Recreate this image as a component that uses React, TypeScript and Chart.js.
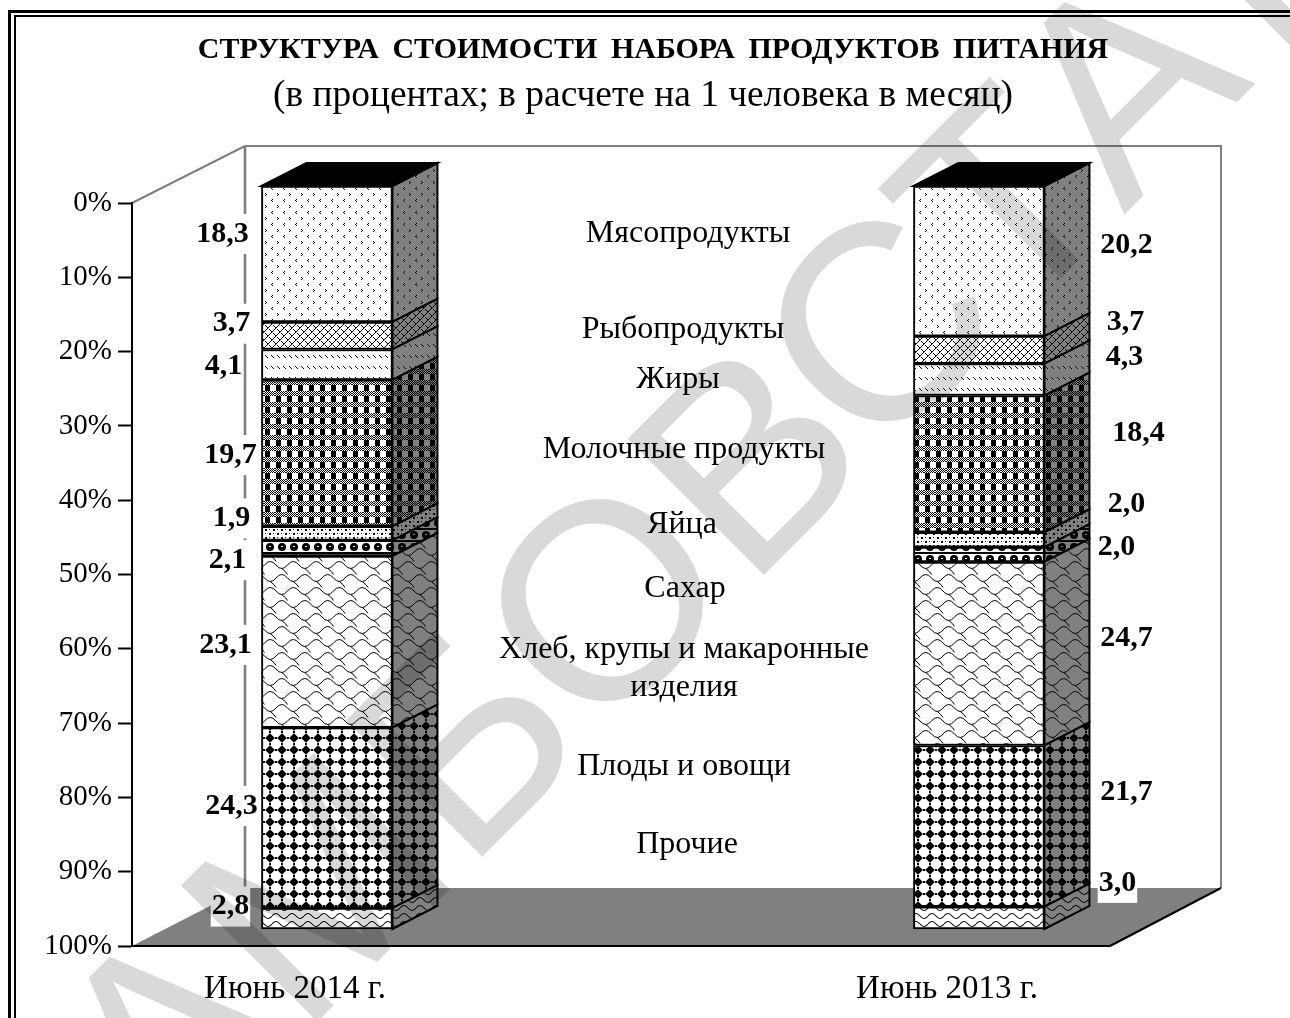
import React, { useEffect, useRef } from "react";
import { Chart, registerables } from "chart.js";

Chart.register(...registerables);

const categories = ["Июнь 2014 г.", "", "Июнь 2013 г."];
const barPositions = [0, 2];
const meat = [18.3, 20.2];
const fish = [3.7, 3.7];
const fats = [4.1, 4.3];
const dairy = [19.7, 18.4];
const eggs = [1.9, 2.0];
const sugar = [2.1, 2.0];
const bread = [23.1, 24.7];
const fruit = [24.3, 21.7];
const other = [2.8, 3.0];
const seriesNames = ["Мясопродукты", "Рыбопродукты", "Жиры", "Молочные продукты", "Яйца", "Сахар", "Хлеб, крупы и макаронные изделия", "Плоды и овощи", "Прочие"];
const seriesValues = [meat, fish, fats, dairy, eggs, sugar, bread, fruit, other];

// label placement relative to the bar edge and to the segment middle
const leftLabelDx = [-39, -30, -38, -31, -30, -34, -36, -30, -31];
const leftLabelDy = [-20, -12, 2, 2, -15, 12, 3, -12, -12];
const rightLabelDx = [82, 81, 80, 94, 82, 72, 82, 82, 73];
const rightLabelDy = [-16, -28, -22, -31, -35, -7, -15, -34, -35];
const middleLabels: [string, number, number][] = [
  ["Мясопродукты", 688, 234],
  ["Рыбопродукты", 683, 330],
  ["Жиры", 678, 380],
  ["Молочные продукты", 684, 450],
  ["Яйца", 682, 525],
  ["Сахар", 685, 589],
  ["Хлеб, крупы и макаронные", 684, 650],
  ["изделия", 684, 688],
  ["Плоды и овощи", 684, 767],
  ["Прочие", 687, 845],
];

const SERIF = '"Liberation Serif", "Times New Roman", serif';
const DEPTH_X = 45;
const DEPTH_Y = 23;
const WALL_X = 113;
const WALL_Y = 58;
const GRAY = "#808080";

type Draw = (c: CanvasRenderingContext2D, fg: string, bg: string) => void;

function tile(w: number, h: number, bg: string, fg: string, draw: Draw) {
  const cv = document.createElement("canvas");
  cv.width = w;
  cv.height = h;
  const c = cv.getContext("2d")!;
  c.fillStyle = bg;
  c.fillRect(0, 0, w, h);
  c.fillStyle = fg;
  c.strokeStyle = fg;
  draw(c, fg, bg);
  return c.createPattern(cv, "repeat")!;
}

const px = (c: CanvasRenderingContext2D, pts: number[][]) => pts.forEach(([x, y]) => c.fillRect(x, y, 1, 1));

const patternDefs: [number, number, Draw][] = [
  // meat
  [12, 12, (c) => {
    px(c, [[1, 1], [2, 2], [1, 3], [8, 7], [7, 8], [8, 9]]);
  }],
  // fish
  [8, 8, (c) => {
    px(c, [[0, 3], [1, 2], [2, 1], [3, 0], [5, 1], [6, 2], [7, 3]]);
    px(c, [[4, 7], [5, 6], [6, 5], [7, 4], [1, 5], [2, 6], [3, 7]]);
  }],
  // fats
  [6, 11, (c) => {
    px(c, [[1, 3], [2, 4], [3, 5]]);
  }],
  // dairy
  [11, 11, (c) => {
    c.fillRect(1, 0, 5, 6);
    for (let y = 6; y < 11; y++) for (let x = 0; x < 11; x++) if ((x + y) % 2 === 0) c.fillRect(x, y, 1, 1);
  }],
  // eggs
  [8, 8, (c) => {
    c.fillRect(1, 1, 2, 2);
    c.fillRect(5, 5, 2, 2);
    px(c, [[5, 1], [1, 5]]);
  }],
  // sugar
  [12, 12, (c, fg, bg) => {
    c.fillRect(0, 0, 12, 2);
    c.beginPath();
    c.arc(6, 7, 4, 0, Math.PI * 2);
    c.fill();
    c.fillStyle = bg;
    c.fillRect(5, 6, 2, 1);
    c.fillStyle = fg;
  }],
  // bread
  [23, 26, (c) => {
    c.lineWidth = 1;
    const wave = (x: number, y: number) => {
      c.beginPath();
      c.moveTo(x, y);
      c.quadraticCurveTo(x + 5.75, y - 7, x + 11.5, y);
      c.quadraticCurveTo(x + 17.25, y + 7, x + 23, y);
      c.moveTo(x + 17.25, y + 3.5);
      c.quadraticCurveTo(x + 22, y + 7, x + 23, y + 9.5);
      c.stroke();
    };
    for (let r = -1; r < 4; r++) {
      for (let k = -1; k < 2; k++) wave(k * 23 + (r % 2 ? 11.5 : 0), r * 13 + 6);
    }
  }],
  // fruit
  [12, 12, (c) => {
    c.beginPath();
    c.moveTo(6, 1.2);
    c.lineTo(10.8, 6);
    c.lineTo(6, 10.8);
    c.lineTo(1.2, 6);
    c.closePath();
    c.fill();
    px(c, [[5, 0], [6, 0], [0, 5], [0, 6], [5, 11], [6, 11], [11, 5], [11, 6]]);
  }],
  // other
  [16, 8, (c) => {
    c.lineWidth = 1.1;
    c.beginPath();
    c.moveTo(0, 4);
    c.quadraticCurveTo(4, -1, 8, 4);
    c.quadraticCurveTo(12, 9, 16, 4);
    c.stroke();
  }],
];

const poly = (ctx: CanvasRenderingContext2D, pts: number[][]) => {
  ctx.beginPath();
  pts.forEach(([x, y], i) => (i ? ctx.lineTo(x, y) : ctx.moveTo(x, y)));
  ctx.closePath();
};

const line = (ctx: CanvasRenderingContext2D, pts: number[][], color: string, width: number) => {
  ctx.save();
  ctx.strokeStyle = color;
  ctx.lineWidth = width;
  ctx.beginPath();
  pts.forEach(([x, y], i) => (i ? ctx.lineTo(x, y) : ctx.moveTo(x, y)));
  ctx.stroke();
  ctx.restore();
};

const decorPlugin = {
  id: "decor",
  beforeDraw(chart: any) {
    const { ctx, chartArea: a, width, height } = chart;
    ctx.save();
    ctx.fillStyle = "#fff";
    ctx.fillRect(0, 0, width, height);
    // double frame
    line(ctx, [[9.5, height], [9.5, 11.5], [width, 11.5]], "#000", 3);
    line(ctx, [[15, height], [15, 16], [width, 16]], "#000", 2);
    // title
    ctx.textAlign = "center";
    ctx.textBaseline = "middle";
    ctx.fillStyle = "#000";
    ctx.font = `bold 30px ${SERIF}`;
    ctx.wordSpacing = "6px";
    ctx.fillText("СТРУКТУРА СТОИМОСТИ НАБОРА ПРОДУКТОВ ПИТАНИЯ", 653, 50);
    ctx.wordSpacing = "0px";
    ctx.font = `37.4px ${SERIF}`;
    ctx.fillText("(в процентах; в расчете на 1 человека в месяц)", 643, 96);
    // floor
    const floorBack = a.bottom - WALL_Y;
    ctx.fillStyle = GRAY;
    poly(ctx, [[a.left, a.bottom], [a.left + WALL_X, floorBack], [a.right + WALL_X - 3, floorBack], [a.right, a.bottom]]);
    ctx.fill();
    // walls
    const wx = a.left + WALL_X;
    const wy = a.top - WALL_Y + 1;
    line(ctx, [[a.left, a.top], [wx, wy]], GRAY, 2);
    line(ctx, [[wx, wy], [wx, floorBack]], GRAY, 2.6);
    line(ctx, [[wx, wy], [a.right + WALL_X - 2, wy], [a.right + WALL_X - 2, floorBack]], GRAY, 2);
    line(ctx, [[a.right, a.bottom], [a.right + WALL_X - 2, floorBack]], "#000", 2);
    ctx.restore();
  },
  beforeDatasetsDraw(chart: any) {
    const { ctx } = chart;
    ctx.save();
    const sidePatterns = patternDefs.map(([w, h, d]) => tile(w, h, GRAY, "#000", d));
    chart.data.datasets.forEach((_: any, di: number) => {
      chart.getDatasetMeta(di).data.forEach((bar: any) => {
        const right = bar.x + bar.width / 2;
        const left = bar.x - bar.width / 2;
        const top = Math.min(bar.y, bar.base);
        const bottom = Math.max(bar.y, bar.base);
        poly(ctx, [[right, top], [right + DEPTH_X, top - DEPTH_Y], [right + DEPTH_X, bottom - DEPTH_Y], [right, bottom]]);
        ctx.fillStyle = sidePatterns[di];
        ctx.fill();
        ctx.strokeStyle = "#000";
        ctx.lineWidth = 2;
        ctx.stroke();
        if (di === 0) {
          poly(ctx, [[left, top], [left + DEPTH_X, top - DEPTH_Y], [right + DEPTH_X, top - DEPTH_Y], [right, top]]);
          ctx.fillStyle = "#000";
          ctx.fill();
          ctx.stroke();
        }
      });
    });
    ctx.restore();
  },
  afterDatasetsDraw(chart: any) {
    const { ctx } = chart;
    ctx.save();
    ctx.textAlign = "center";
    ctx.textBaseline = "middle";
    chart.data.datasets.forEach((ds: any, di: number) => {
      chart.getDatasetMeta(di).data.forEach((bar: any, i: number) => {
        const value = seriesValues[di][i];
        const text = value.toFixed(1).replace(".", ",");
        const edge = i === 0 ? bar.x - bar.width / 2 : bar.x + bar.width / 2;
        const x = edge + (i === 0 ? leftLabelDx : rightLabelDx)[di];
        const y = (bar.y + bar.base) / 2 + (i === 0 ? leftLabelDy : rightLabelDy)[di];
        ctx.font = `bold 30px ${SERIF}`;
        const tw = ctx.measureText(text).width;
        ctx.fillStyle = "#fff";
        ctx.fillRect(x - tw / 2 - 1, y - 20, tw + 2, 40);
        ctx.fillStyle = "#000";
        ctx.fillText(text, x, y);
      });
    });
    ctx.font = `32px ${SERIF}`;
    ctx.fillStyle = "#000";
    middleLabels.forEach(([t, x, y]) => ctx.fillText(t, x, y));
    ctx.restore();
  },
  afterDraw(chart: any) {
    const { ctx } = chart;
    ctx.save();
    ctx.translate(1256, 83);
    ctx.rotate(-Math.PI / 4);
    ctx.font = '280px "Liberation Sans", Arial, sans-serif';
    ctx.textAlign = "left";
    ctx.textBaseline = "alphabetic";
    ctx.fillStyle = "rgba(0,0,0,0.15)";
    const start = -ctx.measureText("ТАМБОВСТА").width;
    ctx.fillText("ТАМБОВСТАТ", start, 0);
    ctx.restore();
  },
};

export default function App() {
  const ref = useRef<HTMLCanvasElement>(null);
  useEffect(() => {
    const frontPatterns = patternDefs.map(([w, h, d]) => tile(w, h, "#fff", "#000", d));
    const chart = new Chart(ref.current!, {
      type: "bar",
      data: {
        labels: categories,
        datasets: seriesValues.map((vals, i) => ({
          label: seriesNames[i],
          data: vals.map((v, k) => ({ x: barPositions[k], y: v })),
          backgroundColor: frontPatterns[i],
          borderColor: "#000",
          borderWidth: 2,
          borderSkipped: false,
          barThickness: 131,
          xAxisID: "xBar",
          yAxisID: "yBar",
          clip: false,
        })),
      } as any,
      options: {
        responsive: false,
        animation: false,
        layout: { padding: { left: 0, right: 180, top: 203, bottom: 0 } },
        plugins: { legend: { display: false }, tooltip: { enabled: false } },
        scales: {
          x: {
            type: "category",
            position: "bottom",
            labels: categories,
            grid: { display: false, drawTicks: false },
            border: { display: true, color: "#000", width: 2 },
            ticks: { color: "#000", font: { family: SERIF, size: 33 }, padding: 24, maxRotation: 0, autoSkip: false },
            afterFit: (s: any) => { s.height = 72; },
          },
          y: {
            type: "linear",
            position: "left",
            reverse: true,
            min: 0,
            max: 100,
            grid: { display: true, drawOnChartArea: false, drawTicks: true, tickLength: 14, tickColor: "#000", tickWidth: 2 },
            border: { display: true, color: "#000", width: 2 },
            ticks: { stepSize: 10, color: "#000", padding: 6, font: { family: SERIF, size: 29 }, callback: (v: any) => `${v}%` },
            afterFit: (s: any) => { s.width = 132; },
          },
          xBar: { type: "linear", display: false, offset: false, min: -0.598, max: 2.402, stacked: true },
          yBar: { type: "linear", display: false, reverse: true, min: 2.288, max: 102.288, stacked: true },
        },
      } as any,
      plugins: [decorPlugin],
    });
    return () => chart.destroy();
  }, []);
  return (
    <div style={{ position: "absolute", left: 0, top: 0, width: 1290, height: 1018, overflow: "hidden" }}>
      <canvas ref={ref} width={1290} height={1018} style={{ display: "block" }} />
    </div>
  );
}
